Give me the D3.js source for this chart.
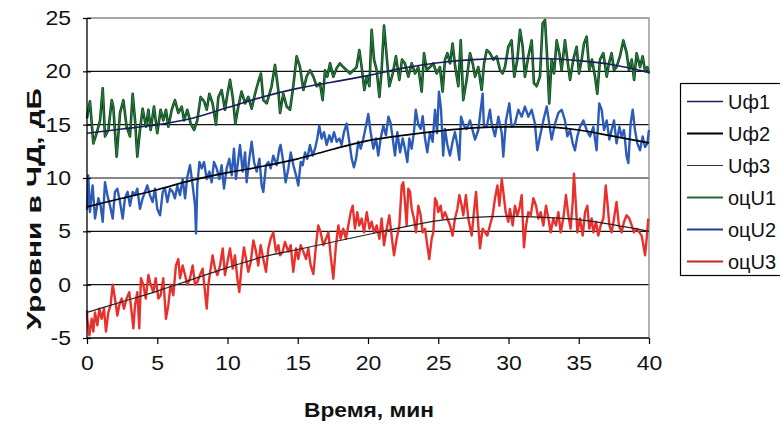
<!DOCTYPE html>
<html>
<head>
<meta charset="utf-8">
<script src="https://cdn.jsdelivr.net/npm/d3@7/dist/d3.min.js"></script>
<style>
  html, body { margin: 0; padding: 0; background: #fff; }
  svg { display: block; font-family: "Liberation Sans", Arial, sans-serif; }
</style>
</head>
<body>
<svg id="chart" width="780" height="424"></svg>
<script>
// Axis ticks
const xTicks = [0, 5, 10, 15, 20, 25, 30, 35, 40];
const yTicks = [-5, 0, 5, 10, 15, 20, 25];

// Smoothed (model) levels, sampled every 2.5 min
const smoothTime = [0, 2.5, 5, 7.5, 10, 12.5, 15, 17.5, 20, 22.5, 25, 27.5, 30, 32.5, 35, 37.5, 40];
const uf1 = [14.2, 14.6, 15.0, 15.6, 16.6, 17.6, 18.4, 19.0, 19.6, 20.3, 20.8, 21.1, 21.2, 21.2, 21.0, 20.6, 19.9];
const uf2 = [7.3, 8.1, 8.9, 9.8, 10.5, 11.1, 11.8, 12.7, 13.5, 14.0, 14.4, 14.7, 14.8, 14.8, 14.5, 13.9, 13.3];
const uf3 = [-2.6, -1.6, -0.6, 0.5, 1.6, 2.6, 3.3, 4.0, 4.7, 5.4, 6.0, 6.3, 6.4, 6.3, 6.1, 5.6, 5.0];

// Measured estimates: [time, level]
const ocU1 = [
[0,15.6],[0.09,16.4],[0.21,17.2],[0.45,13.25],[0.69,14.2],[0.93,15.4],[1.12,18.4],[1.28,13.9],[1.52,14.5],[1.76,17.3],
[1.87,16.7],[2.11,12.0],[2.35,16.1],[2.59,17.3],[2.82,14.8],[3.06,13.9],[3.25,17.9],[3.42,15.4],[3.58,12.0],[3.77,14.5],
[3.96,16.5],[4.2,14.8],[4.37,16.4],[4.53,14.5],[4.77,16.7],[5.0,14.2],[5.24,16.4],[5.43,15.4],[5.62,16.4],[5.79,14.8],
[6.03,16.4],[6.26,17.3],[6.5,16.1],[6.74,16.7],[6.9,15.4],[7.14,16.4],[7.38,15.1],[7.62,14.5],[7.85,15.4],[8.09,17.6],
[8.33,17.2],[8.52,16.4],[8.71,17.9],[8.94,17.0],[9.18,15.0],[9.35,17.6],[9.58,18.25],[9.82,16.4],[10.0,17.9],[10.18,19.2],
[10.37,17.6],[10.56,15.1],[10.77,16.7],[11.0,18.1],[11.25,17.0],[11.48,17.6],[11.72,16.5],[11.96,17.9],[12.19,19.0],[12.38,19.8],
[12.55,17.3],[12.79,17.0],[13.14,18.6],[13.38,20.6],[13.62,18.2],[13.74,16.1],[13.97,17.9],[14.21,16.7],[14.45,16.4],[14.68,18.6],
[14.92,21.4],[15.16,20.4],[15.4,18.25],[15.63,19.5],[15.87,20.1],[16.11,19.5],[16.35,18.6],[16.58,18.9],[16.77,17.3],[16.94,20.1],
[17.1,19.5],[17.3,20.75],[17.53,19.5],[17.77,20.3],[18.0,20.75],[18.24,20.4],[18.48,20.1],[18.72,19.8],[18.96,20.1],[19.19,20.4],
[19.38,22.0],[19.55,20.4],[19.74,18.25],[19.91,19.5],[20.1,18.6],[20.26,23.9],[20.43,21.1],[20.62,20.1],[20.81,17.6],[20.97,20.1],
[21.14,24.3],[21.33,21.4],[21.52,18.6],[21.76,19.8],[21.99,21.4],[22.23,19.2],[22.42,21.1],[22.63,20.75],[22.87,19.5],[23.11,20.75],
[23.35,19.8],[23.58,20.4],[23.82,18.1],[23.99,21.7],[24.18,20.1],[24.41,20.4],[24.65,20.75],[24.89,19.8],[25.12,20.4],[25.31,18.1],
[25.48,21.1],[25.65,21.7],[25.84,20.75],[26.02,22.6],[26.21,20.4],[26.43,18.6],[26.6,22.9],[26.78,17.3],[27.02,19.2],[27.26,21.7],
[27.45,20.75],[27.62,19.5],[27.85,20.4],[28.09,18.25],[28.26,20.75],[28.45,22.0],[28.68,21.7],[28.92,21.1],[29.16,21.4],[29.4,20.1],
[29.58,19.8],[29.75,20.4],[29.99,22.3],[30.22,22.9],[30.41,19.5],[30.63,21.1],[30.82,23.9],[31.01,22.3],[31.17,19.5],[31.41,21.4],
[31.65,22.9],[31.81,18.9],[32.0,18.6],[32.24,19.5],[32.43,24.5],[32.6,24.8],[32.76,21.1],[32.9,17.0],[33.07,21.1],[33.24,19.8],
[33.43,22.9],[33.62,21.7],[33.78,20.1],[34.02,22.9],[34.19,21.1],[34.38,19.2],[34.61,21.1],[34.85,22.3],[35.02,19.8],[35.21,21.1],
[35.37,22.6],[35.56,23.25],[35.75,20.1],[35.94,21.1],[36.16,19.5],[36.32,17.9],[36.51,21.1],[36.75,21.7],[36.99,19.5],[37.15,20.75],
[37.34,21.7],[37.51,20.1],[37.69,20.4],[37.93,21.4],[38.17,22.9],[38.41,21.7],[38.58,20.1],[38.77,21.1],[38.94,19.2],[39.12,21.7],
[39.36,20.4],[39.55,21.4],[39.72,20.0],[39.88,20.4],[40.0,19.8]
];

const ocU2 = [
[0,7.0],[0.09,10.25],[0.21,6.8],[0.4,9.3],[0.57,6.2],[0.81,8.1],[0.97,7.4],[1.12,5.9],[1.28,9.6],[1.45,8.4],
[1.64,7.4],[1.83,6.2],[1.99,8.7],[2.16,9.0],[2.35,7.75],[2.54,6.2],[2.7,8.1],[2.89,8.7],[3.06,7.4],[3.25,8.7],
[3.42,8.4],[3.58,9.0],[3.77,7.1],[3.96,8.1],[4.13,8.7],[4.29,9.3],[4.48,8.4],[4.67,7.75],[4.84,9.0],[5.0,7.1],
[5.2,6.5],[5.39,8.7],[5.55,9.0],[5.72,7.75],[5.91,9.0],[6.1,8.7],[6.26,8.1],[6.43,9.3],[6.62,8.4],[6.81,9.9],
[6.98,8.1],[7.14,10.1],[7.33,11.2],[7.52,9.3],[7.69,7.4],[7.76,4.8],[7.85,9.3],[8.0,11.5],[8.16,10.9],[8.33,11.5],
[8.52,9.9],[8.71,10.6],[8.87,9.6],[9.04,11.5],[9.23,10.9],[9.42,9.9],[9.58,11.2],[9.75,9.0],[9.94,10.9],[10.13,11.8],
[10.3,10.25],[10.46,12.75],[10.6,9.9],[10.77,11.8],[10.89,13.1],[11.08,10.6],[11.25,12.4],[11.36,9.6],[11.55,11.8],[11.72,13.4],
[11.89,11.5],[12.08,10.6],[12.27,11.8],[12.43,9.3],[12.55,8.7],[12.74,11.2],[12.91,11.5],[13.07,10.9],[13.26,12.1],[13.5,11.2],
[13.69,12.75],[13.78,13.1],[13.97,11.5],[14.14,9.6],[14.33,10.9],[14.5,12.4],[14.69,11.2],[14.88,10.25],[15.04,9.3],[15.21,11.5],
[15.35,11.2],[15.52,12.4],[15.68,11.8],[15.87,13.1],[16.06,12.1],[16.23,12.75],[16.39,13.7],[16.53,14.9],[16.7,13.7],[16.87,14.3],
[17.06,13.1],[17.25,14.0],[17.41,13.4],[17.58,14.3],[17.77,13.4],[17.96,13.7],[18.12,13.1],[18.29,14.3],[18.48,15.1],[18.67,13.4],
[18.84,11.8],[19.0,11.0],[19.15,11.8],[19.31,13.4],[19.48,12.75],[19.67,13.7],[19.86,14.9],[20.02,16.0],[20.19,14.3],[20.38,12.75],
[20.57,13.7],[20.73,12.1],[20.9,13.7],[21.09,14.9],[21.28,14.0],[21.45,15.75],[21.6,15.2],[21.76,13.7],[21.92,12.1],[22.09,14.3],
[22.28,12.4],[22.47,13.7],[22.63,12.75],[22.8,11.5],[22.94,13.7],[23.11,12.75],[23.27,14.3],[23.4,16.4],[23.58,15.0],[23.75,14.6],
[23.89,15.8],[24.06,13.7],[24.22,12.4],[24.41,14.3],[24.6,13.4],[24.77,16.4],[24.92,14.2],[25.05,18.1],[25.2,16.4],[25.35,12.1],
[25.48,14.6],[25.65,13.1],[25.84,12.1],[26.02,13.4],[26.19,14.3],[26.36,13.1],[26.5,11.7],[26.62,15.75],[26.83,14.9],[27.02,14.6],
[27.26,15.4],[27.62,13.6],[27.85,14.5],[28.02,16.4],[28.16,17.9],[28.25,14.8],[28.45,14.8],[28.68,16.4],[28.8,15.1],[29.04,13.9],
[29.28,15.75],[29.52,14.2],[29.63,12.0],[29.82,15.4],[30.06,17.0],[30.22,14.8],[30.46,15.1],[30.7,16.4],[30.94,15.75],[31.17,16.7],
[31.41,15.75],[31.65,16.4],[31.88,15.1],[32.05,12.6],[32.24,13.9],[32.48,15.4],[32.72,16.7],[32.9,15.1],[33.07,13.6],[33.31,15.1],
[33.55,16.1],[33.78,16.4],[34.02,15.4],[34.19,13.9],[34.38,14.5],[34.57,13.25],[34.73,12.6],[34.9,13.9],[35.09,14.8],[35.33,15.4],
[35.56,14.5],[35.8,13.9],[36.04,14.8],[36.27,12.6],[36.46,17.0],[36.63,16.4],[36.8,14.5],[36.99,15.4],[37.18,13.6],[37.34,14.5],
[37.51,15.4],[37.69,13.25],[37.89,14.8],[38.05,13.9],[38.22,14.5],[38.41,12.0],[38.53,11.4],[38.69,15.1],[38.84,16.4],[39.0,14.5],
[39.17,13.25],[39.36,12.6],[39.55,13.9],[39.72,12.9],[39.88,13.25],[40.0,14.5]
];

const ocU3 = [
[0,-2.4],[0.02,-3.2],[0.17,-4.75],[0.33,-3.2],[0.45,-4.4],[0.57,-2.6],[0.74,-3.8],[0.88,-2.25],[1.04,-3.2],[1.21,-2.25],
[1.35,-4.4],[1.52,-2.6],[1.68,-1.9],[1.83,0.0],[1.99,-1.3],[2.16,-2.9],[2.3,-1.9],[2.47,-1.3],[2.63,-2.25],[2.82,-1.3],
[3.01,-0.7],[3.18,-2.6],[3.3,-4.1],[3.42,-1.9],[3.58,-0.7],[3.72,-4.1],[3.84,0.6],[4.01,0.0],[4.18,-1.3],[4.37,0.9],
[4.53,0.0],[4.72,-0.7],[4.89,0.6],[5.08,-1.3],[5.24,-1.0],[5.43,0.6],[5.62,-3.2],[5.79,-1.9],[5.95,0.0],[6.14,-1.0],
[6.33,1.8],[6.5,2.4],[6.62,0.6],[6.81,1.8],[6.98,0.9],[7.14,0.0],[7.33,0.6],[7.52,1.8],[7.69,0.0],[7.85,0.25],
[8.04,0.9],[8.23,1.5],[8.4,-0.7],[8.52,-2.25],[8.64,0.0],[8.8,1.5],[8.94,2.75],[9.11,1.5],[9.28,0.9],[9.47,1.8],
[9.66,3.4],[9.82,0.9],[9.99,2.1],[10.18,3.4],[10.37,1.5],[10.53,2.75],[10.7,0.6],[10.84,-0.7],[11.01,1.8],[11.17,3.5],
[11.32,2.4],[11.48,1.2],[11.65,2.1],[11.84,4.15],[12.03,3.1],[12.19,1.8],[12.36,3.7],[12.55,2.4],[12.74,1.2],[12.91,3.4],
[13.07,4.3],[13.26,4.9],[13.45,3.1],[13.62,3.7],[13.74,2.75],[13.93,3.1],[14.09,4.0],[14.33,3.1],[14.5,3.7],[14.68,1.2],
[14.88,3.4],[15.04,2.4],[15.21,3.7],[15.4,3.1],[15.59,2.4],[15.75,3.4],[15.92,1.8],[16.11,1.0],[16.3,3.7],[16.46,5.55],
[16.63,4.9],[16.82,3.7],[17.01,4.3],[17.18,4.9],[17.34,2.75],[17.53,0.56],[17.72,3.7],[17.89,5.55],[18.05,4.3],[18.24,5.25],
[18.43,4.3],[18.6,5.55],[18.77,6.8],[18.91,7.4],[19.07,5.25],[19.24,6.8],[19.38,5.55],[19.55,6.2],[19.72,4.9],[19.91,6.8],
[20.1,5.25],[20.26,5.9],[20.43,4.9],[20.62,5.55],[20.81,4.3],[20.97,6.2],[21.14,3.7],[21.33,5.25],[21.52,6.5],[21.68,4.6],
[21.85,2.75],[22.04,4.3],[22.23,5.55],[22.4,9.3],[22.51,9.6],[22.63,7.75],[22.75,5.55],[22.87,9.0],[22.99,8.7],[23.11,7.1],
[23.27,6.2],[23.42,4.9],[23.58,7.4],[23.75,6.5],[23.89,4.9],[24.06,5.25],[24.22,3.7],[24.36,2.4],[24.53,4.3],[24.65,4.9],
[24.77,8.1],[24.89,7.75],[25.0,6.8],[25.17,7.4],[25.31,6.2],[25.48,6.8],[25.65,6.2],[25.84,5.55],[26.02,4.6],[26.19,6.2],
[26.36,7.1],[26.5,8.4],[26.67,7.4],[26.78,6.5],[26.97,8.4],[27.14,6.2],[27.38,4.6],[27.54,6.8],[27.69,8.7],[27.85,5.55],
[27.97,3.4],[28.16,5.25],[28.33,4.9],[28.49,4.6],[28.68,5.55],[28.87,6.5],[29.04,8.1],[29.21,9.3],[29.35,7.4],[29.52,9.9],
[29.63,8.7],[29.8,6.8],[29.99,5.9],[30.1,7.1],[30.3,5.55],[30.46,7.4],[30.63,6.5],[30.77,7.1],[30.94,8.4],[31.1,3.5],
[31.25,5.55],[31.41,6.8],[31.58,6.5],[31.77,8.1],[31.96,7.4],[32.12,6.2],[32.29,6.8],[32.48,5.55],[32.67,7.4],[32.84,6.2],
[33.0,4.9],[33.19,6.2],[33.38,5.55],[33.55,6.8],[33.71,4.9],[33.9,6.2],[34.09,8.4],[34.26,6.5],[34.42,5.25],[34.57,7.75],
[34.66,10.4],[34.8,7.4],[34.9,4.9],[35.09,6.2],[35.28,4.6],[35.45,6.8],[35.61,7.4],[35.75,5.25],[35.92,6.2],[36.04,4.9],
[36.23,5.9],[36.39,4.6],[36.56,5.55],[36.75,6.2],[36.92,9.3],[37.06,7.4],[37.18,5.55],[37.34,4.9],[37.51,6.2],[37.69,7.75],
[37.86,5.55],[38.05,4.9],[38.22,5.9],[38.41,6.5],[38.6,6.2],[38.77,5.55],[38.93,4.9],[39.12,5.25],[39.31,4.9],[39.48,4.6],
[39.6,3.7],[39.72,2.75],[39.83,4.3],[39.95,6.2]
];

const legendItems = [
  { name: "Uф1", color: "#1c1c5a", width: 1.6 },
  { name: "Uф2", color: "#000000", width: 1.8 },
  { name: "Uф3", color: "#333333", width: 1.0 },
  { name: "оцU1", color: "#1d6b34", width: 1.8 },
  { name: "оцU2", color: "#223f8f", width: 1.8 },
  { name: "оцU3", color: "#c8242a", width: 1.8 }
];

const svg = d3.select("#chart");
const plot = { left: 87, right: 649, top: 18, bottom: 338 };

const x = d3.scaleLinear().domain([0, 40]).range([plot.left, plot.right]);
const y = d3.scaleLinear().domain([-5, 25]).range([plot.bottom, plot.top]);

// Horizontal gridlines
svg.append("g").selectAll("line")
  .data(yTicks.filter(v => v > -5 && v < 25))
  .join("line")
  .attr("x1", plot.left).attr("x2", plot.right)
  .attr("y1", d => y(d)).attr("y2", d => y(d))
  .attr("stroke", "#111").attr("stroke-width", 1.2);

// Plot frame: grey top and right edges
svg.append("path")
  .attr("d", `M${plot.left},${y(25)}H${plot.right}V${plot.bottom}`)
  .attr("fill", "none").attr("stroke", "#8a8a8a").attr("stroke-width", 1.3);

const pairLine = d3.line().x(d => x(d[0])).y(d => y(d[1]));

// Noisy estimates (green drawn with a dark edge)
svg.append("path").datum(ocU1).attr("d", pairLine)
  .attr("fill", "none").attr("stroke", "#0d3f1b").attr("stroke-width", 2.6).attr("stroke-linejoin", "round");
svg.append("path").datum(ocU1).attr("d", pairLine)
  .attr("fill", "none").attr("stroke", "#27803d").attr("stroke-width", 1.1).attr("stroke-linejoin", "round");
svg.append("path").datum(ocU2).attr("d", pairLine)
  .attr("fill", "none").attr("stroke", "#2c5cb8").attr("stroke-width", 2.4).attr("stroke-linejoin", "round");
svg.append("path").datum(ocU3).attr("d", pairLine)
  .attr("fill", "none").attr("stroke", "#e8302c").attr("stroke-width", 2.4).attr("stroke-linejoin", "round");

// Smoothed curves
const smoothLine = d3.line()
  .x((d, i) => x(smoothTime[i]))
  .y(d => y(d))
  .curve(d3.curveMonotoneX);
[[uf1, "#1c1c5a", 1.6], [uf2, "#000", 1.7], [uf3, "#222", 1.2]].forEach(([vals, c, w]) => {
  svg.append("path").datum(vals).attr("d", smoothLine)
    .attr("fill", "none").attr("stroke", c).attr("stroke-width", w);
});

// Axes
const yAxis = svg.append("g")
  .attr("transform", `translate(${plot.left},0)`)
  .call(d3.axisLeft(y).tickValues(yTicks).tickSize(4).tickPadding(12).tickFormat(d => String(d)));
yAxis.selectAll(".tick line").attr("x1", 4).attr("x2", -4).attr("stroke", "#000").attr("stroke-width", 1.2);
yAxis.select(".domain").attr("d", `M0,${plot.top}V${plot.bottom}`).attr("stroke", "#000").attr("stroke-width", 1.3);
yAxis.selectAll("text").attr("font-size", 20).attr("fill", "#111")
  .attr("font-family", "'Liberation Sans', Arial, sans-serif")
  .attr("transform", "scale(1.15,1)")
  .attr("x", -16 / 1.15);

const xAxis = svg.append("g")
  .attr("transform", `translate(0,${plot.bottom})`)
  .call(d3.axisBottom(x).tickValues(xTicks).tickSize(6).tickPadding(12).tickFormat(d => String(d)));
xAxis.selectAll(".tick line").attr("stroke", "#000").attr("stroke-width", 1.2);
xAxis.select(".domain").attr("d", `M${plot.left},0H${plot.right}`).attr("stroke", "#000").attr("stroke-width", 1.3);
xAxis.selectAll("text").attr("font-size", 20).attr("fill", "#111")
  .attr("font-family", "'Liberation Sans', Arial, sans-serif")
  .attr("transform", "scale(1.15,1)");

// Axis titles
svg.append("text")
  .attr("x", 369).attr("y", 417)
  .attr("text-anchor", "middle")
  .attr("font-weight", "bold").attr("font-size", 20)
  .attr("textLength", 130).attr("lengthAdjust", "spacingAndGlyphs")
  .attr("fill", "#111")
  .text("Время, мин");

svg.append("text")
  .attr("transform", "translate(41,209) rotate(-90)")
  .attr("text-anchor", "middle")
  .attr("font-weight", "bold").attr("font-size", 20)
  .attr("textLength", 242).attr("lengthAdjust", "spacingAndGlyphs")
  .attr("fill", "#111")
  .text("Уровни в ЧД, дБ");

// Legend
const lg = svg.append("g");
lg.append("rect")
  .attr("x", 680.5).attr("y", 83.5).attr("width", 130).attr("height", 192)
  .attr("fill", "#fff").attr("stroke", "#000").attr("stroke-width", 1.2);
const rows = lg.selectAll("g.row").data(legendItems).join("g")
  .attr("class", "row")
  .attr("transform", (d, i) => `translate(0,${101.5 + i * 32})`);
rows.append("line")
  .attr("x1", 687).attr("x2", 723).attr("y1", 0).attr("y2", 0)
  .attr("stroke", d => d.color).attr("stroke-width", d => d.width);
rows.append("text")
  .attr("x", 728).attr("y", 7)
  .attr("font-size", 20).attr("fill", "#111")
  .text(d => d.name);
</script>
</body>
</html>
